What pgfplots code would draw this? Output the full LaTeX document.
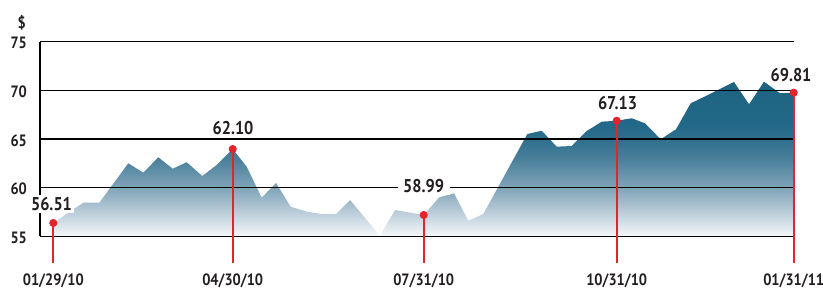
\documentclass[border=0pt]{standalone}
\usepackage{fontspec}
\setmainfont{PT Sans}[FakeStretch=0.88]
\usepackage{pgfplots}
\pgfplotsset{compat=1.18}
\newlength\pxu \setlength\pxu{0.5pt}
\definecolor{s0}{HTML}{F5F8FA}
\definecolor{s1}{HTML}{E6EDF2}
\definecolor{s2}{HTML}{B5C9D6}
\definecolor{s3}{HTML}{80A4B9}
\definecolor{s4}{HTML}{4C819C}
\definecolor{s5}{HTML}{2E6F8D}
\definecolor{s6}{HTML}{236888}
\definecolor{s7}{HTML}{1D6381}
\definecolor{redc}{HTML}{E5232B}
\definecolor{txt}{HTML}{231F20}
\pgfdeclareverticalshading{areashade}{100bp}{color(0bp)=(s0); color(25bp)=(s0); color(27bp)=(s1); color(33.5bp)=(s2); color(40.7bp)=(s3); color(49.7bp)=(s4); color(56.5bp)=(s5); color(61.2bp)=(s6); color(75bp)=(s7); color(100bp)=(s7)}
\begin{document}
\begin{tikzpicture}
\path[use as bounding box] (-40\pxu,-51.7\pxu) rectangle (783\pxu,236.3\pxu);
\begin{axis}[
  at={(0,0)}, anchor=south west,
  scale only axis, width=754\pxu, height=194.6\pxu,
  xmin=40, xmax=794, ymin=55, ymax=75,
  axis line style={draw=none},
  major tick length=0pt,
  ytick={55,60,65,70,75}, yticklabels={55,60,65,70,75},
  xtick={53.3,232.7,423.7,616.7,793.7},
  xticklabels={01/29/10,04/30/10,07/31/10,10/31/10,01/31/11},
  tick label style={font=\fontsize{8.2}{9}\selectfont\bfseries, text=txt, inner sep=0pt},
  yticklabel style={anchor=east, xshift=-12.7\pxu, yshift=-1.5\pxu},
  xticklabel style={anchor=center, yshift=-44.7\pxu},
  clip=false,
]
\addplot[draw=none, shade, shading=areashade] coordinates {
(53.3,56.37) (83.3,58.45) (99.3,58.45) (128.3,62.50) (143.3,61.54) (158.3,63.12)
(172.7,61.95) (186.7,62.61) (202.3,61.20) (216.7,62.33) (232.7,63.97) (246.7,62.15)
(261.7,58.97) (276,60.48) (290.7,58.04) (306.7,57.53) (321.7,57.29) (336,57.29)
(350,58.73) (380,55.05) (395,57.70) (423.7,57.19) (439.3,59.01) (454,59.42)
(468.3,56.60) (483.3,57.29) (527.3,65.51) (541.7,65.85) (556.7,64.21) (571.7,64.28)
(586.7,65.82) (601.7,66.78) (616.7,66.88) (631.7,67.13) (645,66.61) (660.7,64.97)
(676,66.00) (690.7,68.67) (703.3,69.29) (720,70.14) (734,70.86) (749,68.57)
(764,70.89) (780,69.70) (793.7,69.76)
} \closedcycle;
\pgfplotsinvokeforeach{55,60,65,70,75}{\draw[line width=0.55pt, black] (axis cs:40,#1) -- (axis cs:794,#1);}
\draw[line width=0.6pt, black] (axis cs:40,55) -- (axis cs:40,75);
\addplot[redc, line width=1.2pt] coordinates {(53.3,52.23) (53.3,56.37)};
\addplot[redc, line width=1.2pt] coordinates {(232.7,52.23) (232.7,63.97)};
\addplot[redc, line width=1.2pt] coordinates {(423.7,52.23) (423.7,57.19)};
\addplot[redc, line width=1.2pt] coordinates {(616.7,52.23) (616.7,66.88)};
\addplot[redc, line width=1.2pt] coordinates {(793.7,52.23) (793.7,69.76)};
\addplot[only marks, mark=*, mark size=3.6\pxu, redc, mark options={draw=redc, fill=redc}] coordinates {
(53.3,56.37) (232.7,63.97) (423.7,57.19) (616.7,66.88) (793.7,69.76)};
\begin{scope}[every node/.style={font=\fontsize{9.25}{10}\selectfont\bfseries, text=txt}]
\node[fill=white, inner sep=1pt] at (axis cs:51.5,58.32) {56.51};
\node[inner sep=1pt] at (axis cs:233,66.13) {62.10};
\node[fill=white, inner xsep=2.75pt, inner ysep=1pt] at (axis cs:423.7,60.17) {58.99};
\node[inner sep=1pt] at (axis cs:617.5,68.67) {67.13};
\node[inner sep=1pt] at (axis cs:791,71.58) {69.81};
\end{scope}
\node[font=\fontsize{8.2}{9}\selectfont\bfseries, text=txt] at (axis cs:21.7,76.9) {\$};
\end{axis}
\end{tikzpicture}
\end{document}
